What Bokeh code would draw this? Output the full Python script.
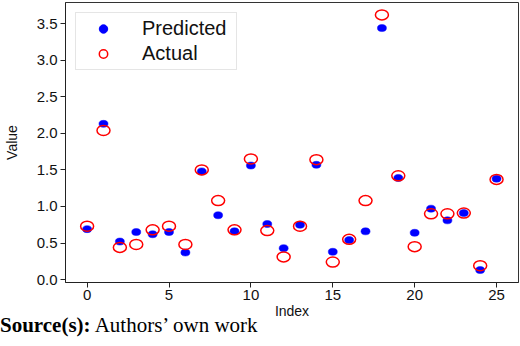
from bokeh.plotting import figure
from bokeh.models import FixedTicker, PrintfTickFormatter, Range1d, Legend, LegendItem, ColumnDataSource, Div
from bokeh.layouts import column
from bokeh.embed import file_html
from bokeh.resources import INLINE

index = list(range(26))
predicted = [0.69, 2.13, 0.52, 0.65, 0.62, 0.65, 0.37, 1.48, 0.88, 0.66,
             1.56, 0.76, 0.43, 0.75, 1.57, 0.38, 0.54, 0.66, 3.44, 1.39,
             0.64, 0.97, 0.81, 0.91, 0.13, 1.38]
actual = [0.73, 2.04, 0.44, 0.48, 0.68, 0.73, 0.48, 1.50, 1.08, 0.68,
          1.65, 0.67, 0.31, 0.73, 1.64, 0.24, 0.55, 1.08, 3.62, 1.42,
          0.45, 0.90, 0.90, 0.91, 0.19, 1.37]
x_ticks = [0, 5, 10, 15, 20, 25]
y_ticks = [0.0, 0.5, 1.0, 1.5, 2.0, 2.5, 3.0, 3.5]
source_bold = "Source(s):"
source_text = "Authors\u2019 own work"

src = ColumnDataSource(dict(x=index, pred=predicted, act=actual))

p = figure(width=520, height=322, output_backend="svg", toolbar_location=None,
           title=None,
           x_range=Range1d(-1.32, 26.34), y_range=Range1d(-0.04, 3.79),
           min_border_left=64, min_border_right=2, min_border_top=2,
           min_border_bottom=40)
p.grid.visible = False
p.outline_line_color = "#333333"
p.outline_line_width = 1
p.background_fill_color = "white"
p.border_fill_color = "white"

p.ellipse(x="x", y="pred", width=9, height=7, width_units="screen",
          height_units="screen", source=src, fill_color="#0000ff",
          line_color="#0000ff", line_width=0.5)
p.ellipse(x="x", y="act", width=13, height=10, width_units="screen",
          height_units="screen", source=src, fill_color=None,
          line_color="#ff0000", line_width=1.5)

nan = float("nan")
lp = p.scatter(x=[nan], y=[nan], size=8, fill_color="#0000ff", line_color="#0000ff")
la = p.scatter(x=[nan], y=[nan], size=11, fill_color=None, line_color="#ff0000", line_width=1.5)

legend = Legend(items=[LegendItem(label="Predicted", renderers=[lp]),
                       LegendItem(label="Actual", renderers=[la])],
                location="top_left", margin=10, padding=4, spacing=2,
                glyph_width=46, glyph_height=21, label_height=21,
                label_standoff=16, label_width=90,
                label_text_font="Liberation Sans", label_text_font_size="20px",
                label_text_color="#111111",
                border_line_color="#cccccc", border_line_width=1,
                background_fill_alpha=0.9)
p.add_layout(legend)

for ax in (p.xaxis[0], p.yaxis[0]):
    ax.axis_line_color = "#222222"
    ax.major_tick_line_color = "#222222"
    ax.major_tick_out = 5
    ax.major_tick_in = 0
    ax.minor_tick_line_color = None
    ax.major_label_text_font = "Liberation Sans"
    ax.major_label_text_font_size = "15px"
    ax.major_label_text_color = "#111111"
    ax.axis_label_text_font = "Liberation Sans"
    ax.axis_label_text_font_size = "14px"
    ax.axis_label_text_font_style = "normal"
    ax.axis_label_text_color = "#111111"

p.xaxis.ticker = FixedTicker(ticks=x_ticks)
p.yaxis.ticker = FixedTicker(ticks=y_ticks)
p.yaxis.formatter = PrintfTickFormatter(format="%.1f")
p.xaxis.axis_label = "Index"
p.yaxis.axis_label = "Value"
p.xaxis.major_label_standoff = 2
p.yaxis.major_label_standoff = 3
p.xaxis.axis_label_standoff = 0
p.yaxis.axis_label_standoff = 14

div = Div(text=('<div style="position:relative;top:-7px;left:0px;'
                'font-family:\'Liberation Serif\';font-size:21px;line-height:20px;'
                'color:black;white-space:nowrap;">'
                '<b>' + source_bold + '</b> ' + source_text + '</div>'),
          width=520, height=24, margin=0)

layout = column(p, div, spacing=0)
open("out.html", "w").write(file_html(layout, INLINE))
